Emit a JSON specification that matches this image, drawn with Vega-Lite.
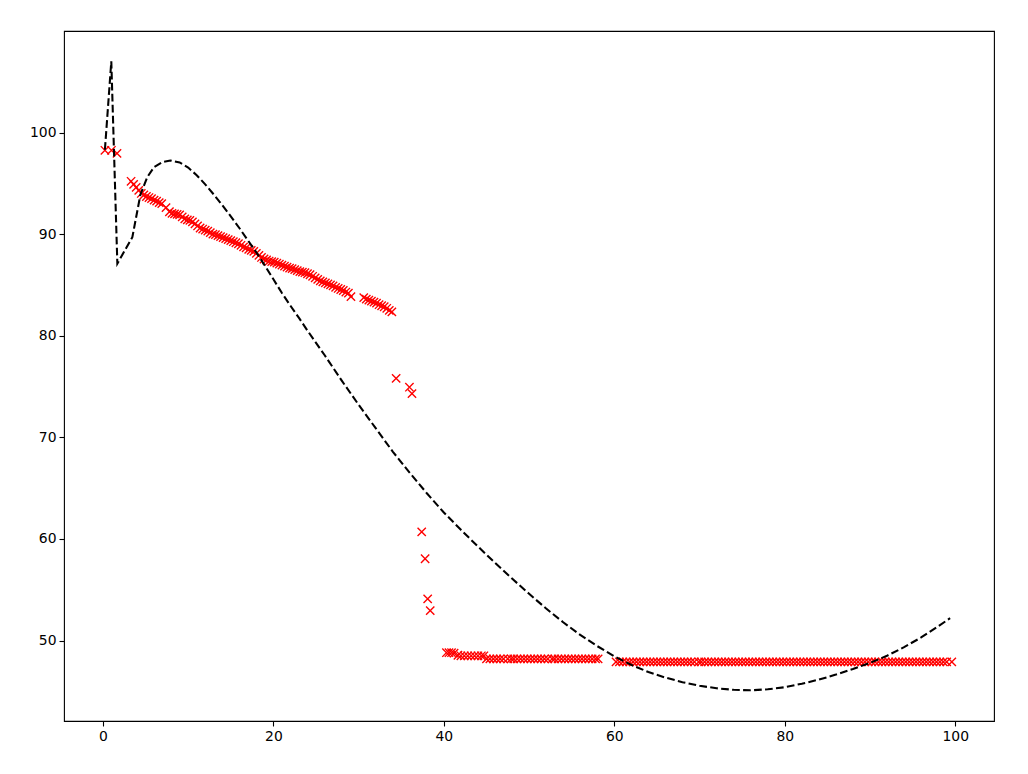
{
  "$schema": "https://vega.github.io/schema/vega-lite/v6.json",
  "width": 930,
  "height": 690,
  "autosize": {"type": "none"},
  "padding": {"left": 64, "top": 31, "right": 34, "bottom": 53},
  "background": "white",
  "config": {
    "view": {"stroke": "black", "strokeWidth": 1.1},
    "axis": {
      "grid": false,
      "domain": false,
      "ticks": true,
      "tickSize": 5,
      "tickWidth": 1.1,
      "tickColor": "black",
      "labelFont": "DejaVu Sans",
      "labelFontSize": 13.9,
      "labelColor": "black",
      "labelPadding": 3,
      "title": null
    }
  },
  "datasets": {
    "pts": [
      {"x":0.23,"y":98.25},{"x":1.0,"y":98.25},{"x":1.65,"y":97.95},
      {"x":3.3,"y":95.2},{"x":3.6,"y":94.9},{"x":3.9,"y":94.6},{"x":4.2,"y":94.3},{"x":4.5,"y":94.0},{"x":4.8,"y":93.85},{"x":5.1,"y":93.7},{"x":5.4,"y":93.6},{"x":5.7,"y":93.5},{"x":6.0,"y":93.35},{"x":6.3,"y":93.25},{"x":6.6,"y":93.1},{"x":6.9,"y":93.0},
      {"x":7.4,"y":92.6},{"x":7.8,"y":92.2},{"x":8.1,"y":92.05},{"x":8.4,"y":92.0},{"x":8.7,"y":91.95},{"x":9.0,"y":91.9},{"x":9.3,"y":91.7},{"x":9.6,"y":91.5},{"x":9.9,"y":91.4},{"x":10.2,"y":91.35},{"x":10.5,"y":91.2},{"x":10.8,"y":91.0},{"x":11.1,"y":90.8},{"x":11.4,"y":90.6},{"x":11.7,"y":90.5},{"x":12.0,"y":90.4},{"x":12.3,"y":90.3},{"x":12.6,"y":90.15},{"x":12.9,"y":90.0},{"x":13.2,"y":89.95},{"x":13.5,"y":89.85},{"x":13.8,"y":89.75},{"x":14.1,"y":89.65},{"x":14.4,"y":89.55},{"x":14.7,"y":89.45},{"x":15.0,"y":89.35},{"x":15.3,"y":89.25},{"x":15.6,"y":89.15},{"x":15.9,"y":89.05},{"x":16.2,"y":88.9},{"x":16.5,"y":88.75},{"x":16.8,"y":88.65},{"x":17.1,"y":88.5},{"x":17.4,"y":88.4},{"x":17.7,"y":88.3},{"x":18.0,"y":88.1},{"x":18.3,"y":87.9},{"x":18.6,"y":87.7},{"x":18.9,"y":87.55},{"x":19.2,"y":87.45},{"x":19.5,"y":87.35},{"x":19.8,"y":87.3},{"x":20.1,"y":87.25},{"x":20.4,"y":87.15},{"x":20.7,"y":87.05},{"x":21.0,"y":86.95},{"x":21.3,"y":86.85},{"x":21.6,"y":86.75},{"x":21.9,"y":86.65},{"x":22.2,"y":86.6},{"x":22.5,"y":86.5},{"x":22.8,"y":86.4},{"x":23.1,"y":86.3},{"x":23.4,"y":86.25},{"x":23.7,"y":86.2},{"x":24.0,"y":86.1},{"x":24.3,"y":86.0},{"x":24.6,"y":85.85},{"x":24.9,"y":85.7},{"x":25.2,"y":85.55},{"x":25.5,"y":85.4},{"x":25.8,"y":85.3},{"x":26.1,"y":85.2},{"x":26.4,"y":85.1},{"x":26.7,"y":85.0},{"x":27.0,"y":84.9},{"x":27.3,"y":84.75},{"x":27.6,"y":84.65},{"x":27.9,"y":84.55},{"x":28.2,"y":84.45},{"x":28.5,"y":84.3},{"x":28.8,"y":84.2},{"x":29.1,"y":83.85},
      {"x":30.6,"y":83.75},{"x":30.9,"y":83.6},{"x":31.2,"y":83.5},{"x":31.5,"y":83.4},{"x":31.8,"y":83.3},{"x":32.1,"y":83.2},{"x":32.4,"y":83.05},{"x":32.7,"y":82.95},{"x":33.0,"y":82.85},{"x":33.3,"y":82.7},{"x":33.6,"y":82.5},{"x":33.9,"y":82.35},
      {"x":34.4,"y":75.8},{"x":35.96,"y":74.93},{"x":36.26,"y":74.3},{"x":37.4,"y":60.7},{"x":37.8,"y":58.05},{"x":38.1,"y":54.1},{"x":38.4,"y":52.95},
      {"x":40.3,"y":48.8},{"x":40.6,"y":48.8},{"x":40.9,"y":48.8},{"x":41.2,"y":48.75},{"x":41.65,"y":48.55},
      {"x":42.0,"y":48.5},{"x":42.4,"y":48.5},{"x":42.8,"y":48.5},{"x":43.2,"y":48.5},{"x":43.6,"y":48.5},{"x":44.0,"y":48.5},{"x":44.4,"y":48.5},{"x":44.7,"y":48.5},
      {"x":45.0,"y":48.2},{"x":45.4,"y":48.2},{"x":45.8,"y":48.2},{"x":46.2,"y":48.2},{"x":46.6,"y":48.2},{"x":47.0,"y":48.2},{"x":47.5,"y":48.2},{"x":47.9,"y":48.2},{"x":48.2,"y":48.2},{"x":48.6,"y":48.2},{"x":49.0,"y":48.2},{"x":49.4,"y":48.2},{"x":49.8,"y":48.2},{"x":50.2,"y":48.2},{"x":50.6,"y":48.2},{"x":51.0,"y":48.2},{"x":51.4,"y":48.2},{"x":51.8,"y":48.2},{"x":52.2,"y":48.2},{"x":52.7,"y":48.2},{"x":53.0,"y":48.2},{"x":53.4,"y":48.2},{"x":53.8,"y":48.2},{"x":54.2,"y":48.2},{"x":54.6,"y":48.2},{"x":55.0,"y":48.2},{"x":55.4,"y":48.2},{"x":55.8,"y":48.2},{"x":56.2,"y":48.2},{"x":56.6,"y":48.2},{"x":57.0,"y":48.2},{"x":57.4,"y":48.2},{"x":57.8,"y":48.2},{"x":58.1,"y":48.2},
      {"x":60.2,"y":47.9},{"x":60.6,"y":47.9},{"x":61.0,"y":47.9},{"x":61.4,"y":47.9},{"x":61.8,"y":47.9},{"x":62.2,"y":47.9},{"x":62.6,"y":47.9},{"x":63.0,"y":47.9},{"x":63.4,"y":47.9},{"x":63.8,"y":47.9},{"x":64.2,"y":47.9},{"x":64.6,"y":47.9},{"x":65.0,"y":47.9},{"x":65.4,"y":47.9},{"x":65.8,"y":47.9},{"x":66.2,"y":47.9},{"x":66.6,"y":47.9},{"x":67.0,"y":47.9},{"x":67.4,"y":47.9},{"x":67.8,"y":47.9},{"x":68.2,"y":47.9},{"x":68.6,"y":47.9},{"x":69.0,"y":47.9},{"x":69.4,"y":47.9},{"x":69.9,"y":47.9},{"x":70.2,"y":47.9},{"x":70.6,"y":47.9},{"x":71.0,"y":47.9},{"x":71.4,"y":47.9},{"x":71.8,"y":47.9},{"x":72.2,"y":47.9},{"x":72.6,"y":47.9},{"x":73.0,"y":47.9},{"x":73.4,"y":47.9},{"x":73.8,"y":47.9},{"x":74.2,"y":47.9},{"x":74.6,"y":47.9},{"x":75.0,"y":47.9},{"x":75.4,"y":47.9},{"x":75.8,"y":47.9},{"x":76.2,"y":47.9},{"x":76.6,"y":47.9},{"x":77.0,"y":47.9},{"x":77.4,"y":47.9},{"x":77.8,"y":47.9},{"x":78.2,"y":47.9},{"x":78.6,"y":47.9},{"x":79.0,"y":47.9},{"x":79.4,"y":47.9},{"x":79.8,"y":47.9},{"x":80.2,"y":47.9},{"x":80.6,"y":47.9},{"x":81.0,"y":47.9},{"x":81.4,"y":47.9},{"x":81.8,"y":47.9},{"x":82.2,"y":47.9},{"x":82.6,"y":47.9},{"x":83.0,"y":47.9},{"x":83.4,"y":47.9},{"x":83.8,"y":47.9},{"x":84.2,"y":47.9},{"x":84.6,"y":47.9},{"x":85.0,"y":47.9},{"x":85.4,"y":47.9},{"x":85.8,"y":47.9},{"x":86.2,"y":47.9},{"x":86.6,"y":47.9},{"x":87.0,"y":47.9},{"x":87.4,"y":47.9},{"x":87.8,"y":47.9},{"x":88.2,"y":47.9},{"x":88.6,"y":47.9},{"x":89.0,"y":47.9},{"x":89.4,"y":47.9},{"x":89.8,"y":47.9},{"x":90.2,"y":47.9},{"x":90.6,"y":47.9},{"x":91.0,"y":47.9},{"x":91.4,"y":47.9},{"x":91.8,"y":47.9},{"x":92.2,"y":47.9},{"x":92.6,"y":47.9},{"x":93.0,"y":47.9},{"x":93.4,"y":47.9},{"x":93.8,"y":47.9},{"x":94.2,"y":47.9},{"x":94.6,"y":47.9},{"x":95.0,"y":47.9},{"x":95.4,"y":47.9},{"x":95.8,"y":47.9},{"x":96.2,"y":47.9},{"x":96.6,"y":47.9},{"x":97.0,"y":47.9},{"x":97.4,"y":47.9},{"x":97.8,"y":47.9},{"x":98.2,"y":47.9},{"x":98.6,"y":47.9},{"x":99.0,"y":47.9},{"x":99.6,"y":47.9}
    ],
    "fit": [
      {"x":0.23,"y":98.3},{"x":0.98,"y":107.0},{"x":1.69,"y":87.1},{"x":3.45,"y":89.7},{"x":4.4,"y":93.9},{"x":5.2,"y":95.6},{"x":6.0,"y":96.6},{"x":7.0,"y":97.1},{"x":7.9,"y":97.25},{"x":9.0,"y":97.05},{"x":10.0,"y":96.55},{"x":11.0,"y":95.8},{"x":12.0,"y":94.9},{"x":13.0,"y":93.9},{"x":14.0,"y":92.85},{"x":15.0,"y":91.75},{"x":16.0,"y":90.6},{"x":17.0,"y":89.4},{"x":18.0,"y":88.2},{"x":19.0,"y":86.9},{"x":20.0,"y":85.55},{"x":21.0,"y":84.2},{"x":22.0,"y":82.95},{"x":23.0,"y":81.75},{"x":24.0,"y":80.5},{"x":25.0,"y":79.3},{"x":26.0,"y":78.1},{"x":28.0,"y":75.6},{"x":30.0,"y":73.2},{"x":32.0,"y":70.9},{"x":34.0,"y":68.6},{"x":36.0,"y":66.5},{"x":38.0,"y":64.5},{"x":40.0,"y":62.6},{"x":42.0,"y":60.9},{"x":44.0,"y":59.25},{"x":46.0,"y":57.65},{"x":48.0,"y":56.1},{"x":50.0,"y":54.6},{"x":52.0,"y":53.15},{"x":54.0,"y":51.8},{"x":56.0,"y":50.55},{"x":58.0,"y":49.45},{"x":60.0,"y":48.45},{"x":62.0,"y":47.6},{"x":64.0,"y":46.9},{"x":66.0,"y":46.35},{"x":68.0,"y":45.9},{"x":70.0,"y":45.55},{"x":72.0,"y":45.3},{"x":74.0,"y":45.15},{"x":76.0,"y":45.1},{"x":78.0,"y":45.2},{"x":80.0,"y":45.4},{"x":82.0,"y":45.75},{"x":84.0,"y":46.15},{"x":86.0,"y":46.65},{"x":88.0,"y":47.2},{"x":90.0,"y":47.8},{"x":92.0,"y":48.5},{"x":94.0,"y":49.35},{"x":96.0,"y":50.3},{"x":98.0,"y":51.4},{"x":99.4,"y":52.2}
    ]
  },
  "layer": [
    {
      "data": {"name": "pts"},
      "mark": {
        "type": "point",
        "shape": "M-1,-1L1,1M-1,1L1,-1",
        "filled": false,
        "stroke": "#ff0000",
        "strokeWidth": 1.39,
        "size": 69,
        "opacity": 1
      },
      "encoding": {
        "x": {"field": "x", "type": "quantitative", "scale": {"domain": [-4.57, 104.55], "nice": false, "zero": false}, "axis": {"values": [0, 20, 40, 60, 80, 100]}},
        "y": {"field": "y", "type": "quantitative", "scale": {"domain": [42.08, 109.99], "nice": false, "zero": false}, "axis": {"values": [50, 60, 70, 80, 90, 100]}}
      }
    },
    {
      "data": {"name": "fit"},
      "mark": {"type": "line", "color": "black", "strokeWidth": 2.08, "strokeDash": [7.7, 3.3]},
      "encoding": {
        "x": {"field": "x", "type": "quantitative"},
        "y": {"field": "y", "type": "quantitative"}
      }
    }
  ]
}
